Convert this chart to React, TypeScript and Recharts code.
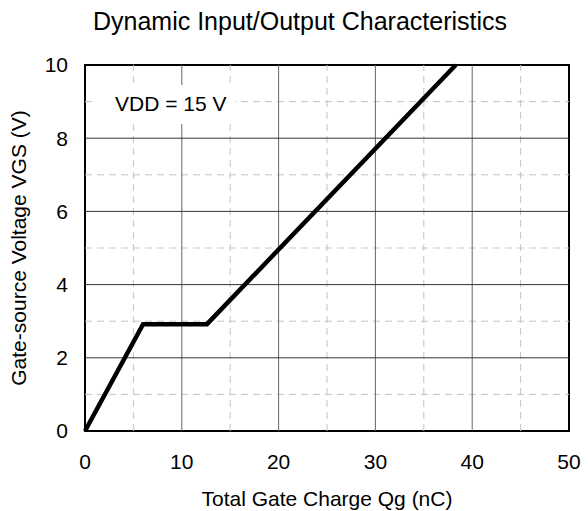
import { LineChart, Line, XAxis, YAxis, ReferenceLine, ReferenceArea } from "recharts";

// gate charge (nC) vs gate-source voltage (V)
const charge = [0, 6.0, 12.6, 38.3];
const vgs = [0, 2.92, 2.92, 10];

const xTicks = [0, 10, 20, 30, 40, 50];
const yTicks = [0, 2, 4, 6, 8, 10];
const xMajor = [10, 20, 30, 40];
const xMinor = [5, 15, 25, 35, 45];
const yMajor = [2, 4, 6, 8];
const yMinor = [1, 3, 5, 7, 9];

const data = charge.map((q, i) => ({ q, v: vgs[i] }));

const font = "'Liberation Sans', Arial, sans-serif";

export default function App() {
  return (
    <div style={{ position: "absolute", left: 0, top: 0, width: 588, height: 511, background: "#fff" }}>
      <LineChart width={588} height={511} data={data} margin={{ top: 65, right: 19, bottom: 50, left: 45 }}>
        {xMinor.map((x) => (
          <ReferenceLine key={"xm" + x} x={x} stroke="#c4c4c4" strokeDasharray="7 5" />
        ))}
        {yMinor.map((y) => (
          <ReferenceLine key={"ym" + y} y={y} stroke="#c4c4c4" strokeDasharray="7 5" />
        ))}
        {xMajor.map((x) => (
          <ReferenceLine key={"xM" + x} x={x} stroke="#666" />
        ))}
        {yMajor.map((y) => (
          <ReferenceLine key={"yM" + y} y={y} stroke="#333" />
        ))}
        <ReferenceArea x1={0} x2={50} y1={0} y2={10} fill="none" stroke="#000" strokeWidth={2} fillOpacity={0} />
        <XAxis
          dataKey="q"
          type="number"
          domain={[0, 50]}
          ticks={xTicks}
          axisLine={false}
          tickLine={false}
          tickSize={0}
          tickMargin={23}
          height={30}
          tick={{ fill: "#000", fontSize: 21, fontFamily: font }}
        />
        <YAxis
          type="number"
          domain={[0, 10]}
          ticks={yTicks}
          axisLine={false}
          tickLine={false}
          tickSize={0}
          tickMargin={17}
          width={40}
          tick={{ fill: "#000", fontSize: 21, fontFamily: font }}
        />
        <Line
          dataKey="v"
          type="linear"
          stroke="#000"
          strokeWidth={4.5}
          dot={false}
          isAnimationActive={false}
          strokeLinejoin="miter"
        />
      </LineChart>
      {/* titles and annotation on top of the chart */}
      <svg
        width={588}
        height={511}
        style={{ position: "absolute", left: 0, top: 0, pointerEvents: "none" }}
        fontFamily={font}
      >
        <text x={300} y={30} textAnchor="middle" fontSize={25} fill="#000">
          Dynamic Input/Output Characteristics
        </text>
        <rect x={97} y={85} width={138} height={39} fill="#fff" />
        <text x={115} y={111} fontSize={21} fill="#000">
          VDD = 15 V
        </text>
        <text x={327} y={506} textAnchor="middle" fontSize={21} fill="#000">
          Total Gate Charge Qg (nC)
        </text>
        <text x={26} y={248} textAnchor="middle" fontSize={21} fill="#000" transform="rotate(-90 26 248)">
          Gate-source Voltage VGS (V)
        </text>
      </svg>
    </div>
  );
}
